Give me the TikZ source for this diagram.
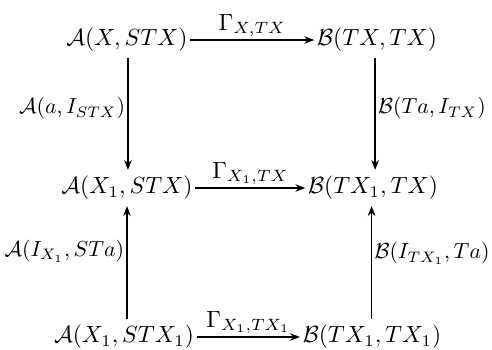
\documentclass[tikz,border=0pt]{standalone}
\usepackage{amsmath}
\usetikzlibrary{arrows.meta}
\begin{document}
\begin{tikzpicture}[x=0.4268pt,y=-0.4268pt,
  obj/.style={inner xsep=1pt,inner ysep=2.5pt},
  arr/.style={-{Stealth[length=4.2pt,width=3.2pt]},line width=0.7pt},
  lbl/.style={inner sep=1pt},
  vlbl/.style={inner sep=1pt,scale=0.93}]
\useasboundingbox (0,0) rectangle (492,350);
\node[obj] (a1) at (127,40) {$\mathcal{A}(X,STX)$};
\node[obj] (b1) at (377,40) {$\mathcal{B}(TX,TX)$};
\node[obj] (a2) at (127,188) {$\mathcal{A}(X_1,STX)$};
\node[obj] (b2) at (373,188) {$\mathcal{B}(TX_1,TX)$};
\node[obj] (a3) at (124,337) {$\mathcal{A}(X_1,STX_1)$};
\node[obj] (b3) at (372,337) {$\mathcal{B}(TX_1,TX_1)$};
\draw[arr] (a1) -- node[above,lbl] {$\Gamma_{X,TX}$} (b1);
\draw[arr] (a2) -- node[above,lbl] {$\Gamma_{X_1,TX}$} (b2);
\draw[arr] (a3) -- node[above,lbl] {$\Gamma_{X_1,TX_1}$} (b3);
\draw[arr] ([xshift=0.4pt]a1.south) -- node[left,vlbl,pos=0.45] {$\mathcal{A}(a,I_{STX})$} ([xshift=0.4pt]a1.south |- a2.north);
\draw[arr] ([xshift=-0.8pt]b1.south) -- node[right,vlbl,pos=0.45] {$\mathcal{B}(Ta,I_{TX})$} ([xshift=-0.8pt]b1.south |- b2.north);
\draw[arr] (a2.south |- a3.north) -- node[left,vlbl,pos=0.6] {$\mathcal{A}(I_{X_1},STa)$} (a2.south);
\draw[arr] ([xshift=-0.6pt]b2.south |- b3.north) -- node[right,vlbl,pos=0.58] {$\mathcal{B}(I_{TX_1},Ta)$} ([xshift=-0.6pt]b2.south);
\end{tikzpicture}
\end{document}
